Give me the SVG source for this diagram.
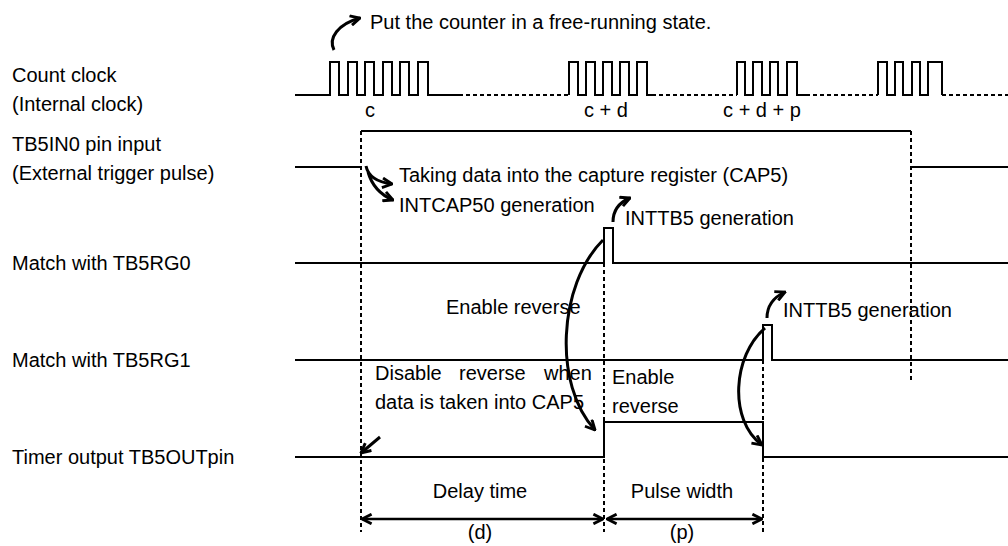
<svg xmlns="http://www.w3.org/2000/svg" width="1008" height="546" viewBox="0 0 1008 546">
<defs>
<style>
text{font-family:"Liberation Sans",Arial,sans-serif;font-size:20px;fill:#000}
.sig{fill:none;stroke:#000;stroke-width:2}
.dash{fill:none;stroke:#000;stroke-width:2;stroke-dasharray:4,3}
.arr{fill:none;stroke:#000;stroke-width:3;marker-end:url(#ah)}
.dim{fill:none;stroke:#000;stroke-width:2.5;marker-start:url(#ah);marker-end:url(#ah)}
.mid{text-anchor:middle}
</style>
<marker id="ah" viewBox="0 0 10 10" refX="9" refY="5" markerWidth="12" markerHeight="12" markerUnits="userSpaceOnUse" orient="auto-start-reverse">
<path d="M1,1 L9,5 L1,9" fill="none" stroke="#000" stroke-width="2.4"/>
</marker>
</defs>
<rect width="1008" height="546" fill="#fff"/>
<g id="labels">
<text x="12" y="82">Count clock</text>
<text x="12" y="111">(Internal clock)</text>
<text x="12" y="151">TB5IN0 pin input</text>
<text x="12" y="180">(External trigger pulse)</text>
<text x="12" y="270">Match with TB5RG0</text>
<text x="12" y="367">Match with TB5RG1</text>
<text x="12" y="464">Timer output TB5OUTpin</text>
</g>
<g id="count-clock">
<path class="sig" d="M295,95 H330 V62 H339 V95 H348 V62 H357 V95 H365 V62 H374 V95 H383 V62 H392 V95 H400 V62 H409 V95 H418 V62 H428 V95 H459"/>
<path class="dash" d="M459,95 H569"/>
<path class="sig" d="M569,95 V62 H578 V95 H586 V62 H595 V95 H603 V62 H612 V95 H620 V62 H629 V95 H637 V62 H647 V95 H652"/>
<path class="dash" d="M652,95 H737"/>
<path class="sig" d="M737,95 V62 H745 V95 H753 V62 H762 V95 H770 V62 H778 V95 H787 V62 H797 V95 H806"/>
<path class="dash" d="M806,95 H878"/>
<path class="sig" d="M878,95 V62 H887 V95 H895 V62 H903 V95 H912 V62 H920 V95 H928 V62 H942 V95"/>
<path class="dash" d="M942,95 H1008"/>
<text class="mid" x="370" y="117">c</text>
<text class="mid" x="606" y="117">c + d</text>
<text class="mid" x="762" y="117">c + d + p</text>
</g>
<g id="trigger">
<path class="sig" d="M295,167 H361"/>
<path class="sig" d="M361,131 H911"/>
<path class="sig" d="M911,167 H1008"/>
</g>
<g id="match0">
<path class="sig" d="M295,263 H604 V228 H613 V263 H1008"/>
</g>
<g id="match1">
<path class="sig" d="M295,360 H763 V325 H772 V360 H1008"/>
</g>
<g id="tout">
<path class="sig" d="M295,457 H604 V422 H763 V457 H1008"/>
</g>
<g id="guides">
<path class="dash" d="M361,131 V532"/>
<path class="dash" d="M604,263 V532"/>
<path class="dash" d="M763,360 V532"/>
<path class="dash" d="M911,131 V380"/>
</g>
<g id="connectors">
<path class="arr" d="M334,50 C328,38 338,24 360,18"/>
<path class="arr" d="M366,166 C368,176 376,182 392,184"/>
<path class="arr" d="M368,172 C372,186 381,195 393,200"/>
<path class="arr" d="M613,222 C613,212 618,203 630,198"/>
<path class="arr" d="M767,318 C767,308 772,298 785,292"/>
<path class="arr" d="M603,240 C558,285 553,385 595,430"/>
<path class="arr" d="M765,328 C733,355 728,420 762,445"/>
<path class="arr" d="M380,437 L361,453"/>
<path class="dim" d="M362,519 H603"/>
<path class="dim" d="M607,519 H762"/>
</g>
<g id="notes">
<text x="370" y="29">Put the counter in a free-running state.</text>
<text x="399" y="182">Taking data into the capture register (CAP5)</text>
<text x="399" y="212">INTCAP50 generation</text>
<text x="625" y="225">INTTB5 generation</text>
<text x="446" y="314">Enable reverse</text>
<text x="783" y="317">INTTB5 generation</text>
<text y="380"><tspan x="375">Disable</tspan><tspan x="459">reverse</tspan><tspan x="544">when</tspan></text>
<text x="375" y="409">data is taken into CAP5</text>
<text x="612" y="384">Enable</text>
<text x="612" y="413">reverse</text>
<text class="mid" x="480" y="498">Delay time</text>
<text class="mid" x="682" y="498">Pulse width</text>
<text class="mid" x="480" y="539">(d)</text>
<text class="mid" x="682" y="539">(p)</text>
</g>
</svg>
